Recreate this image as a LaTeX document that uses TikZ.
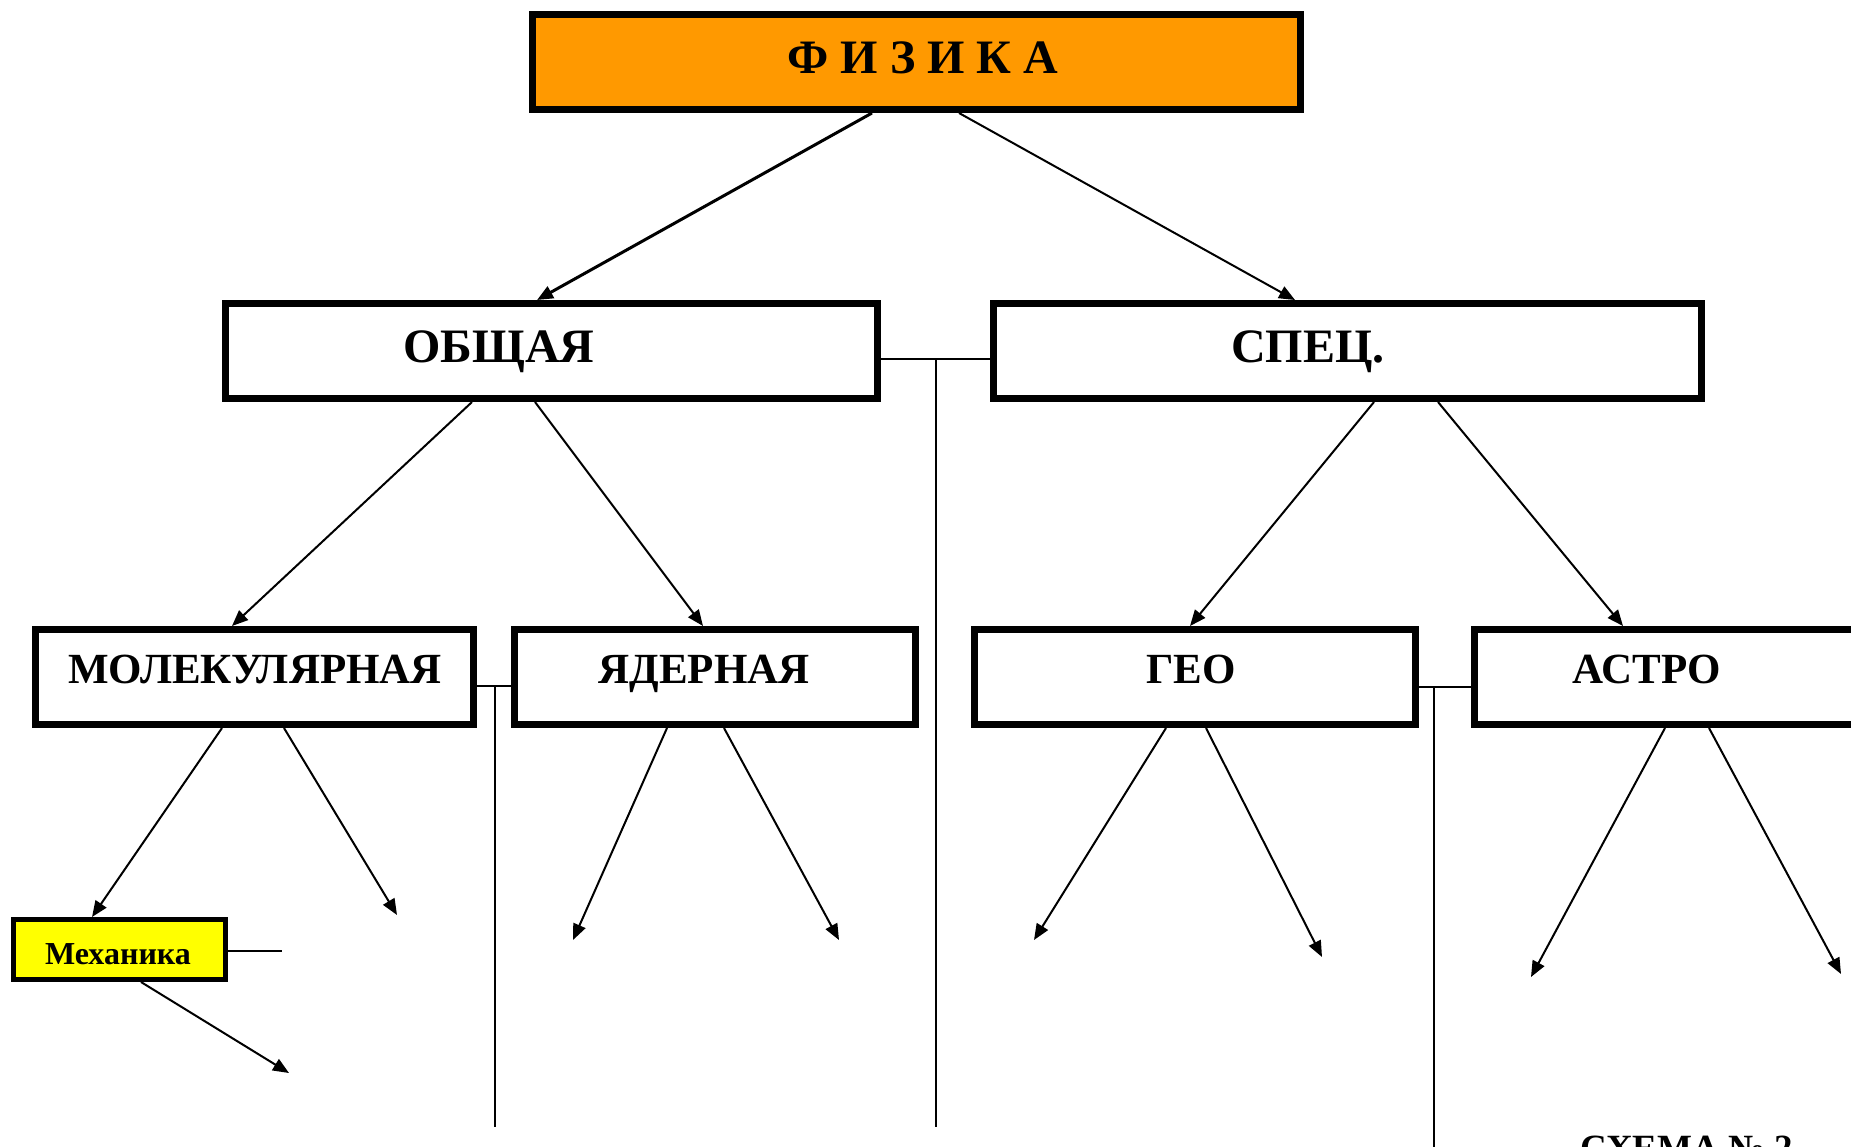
\documentclass[tikz,border=0pt]{standalone}
\usepackage{fontspec}
\setmainfont{Liberation Serif}
\usetikzlibrary{arrows.meta}
\definecolor{physorange}{HTML}{FF9900}
\definecolor{mechyellow}{HTML}{FFFF00}
\tikzset{
  box/.style={draw, line width=7pt, rectangle, inner sep=0pt, fill=white},
  lbl/.style={inner sep=0pt, anchor=base, font=\bfseries\fontsize{48pt}{56pt}\selectfont},
  lblsm/.style={lbl, font=\bfseries\fontsize{43pt}{50pt}\selectfont},
  arr/.style={-{Triangle[length=16pt,width=13pt]}, line width=2pt},
  conn/.style={line width=2pt}
}
\begin{document}
\begin{tikzpicture}[x=1pt,y=-1pt]
\useasboundingbox (0,0) rectangle (1851,1146);
\clip (0,0) rectangle (1851,1146);
\fill[white] (0,0) rectangle (1851,1146);

% boxes
\node[box, fill=physorange, minimum width=768pt, minimum height=95pt] (fiz) at (916.5,62) {};
\node[box, minimum width=652pt, minimum height=95pt] (ob) at (551.5,351) {};
\node[box, minimum width=708pt, minimum height=95pt] (sp) at (1347.5,351) {};
\node[box, minimum width=438pt, minimum height=95pt] (mol) at (254.5,677) {};
\node[box, minimum width=401pt, minimum height=95pt] (yad) at (715,677) {};
\node[box, minimum width=441pt, minimum height=95pt] (geo) at (1195,677) {};
\node[box, minimum width=422pt, minimum height=95pt] (ast) at (1685.5,677) {};
\node[box, line width=5pt, fill=mechyellow, minimum width=212pt, minimum height=60pt] (mech) at (119.5,949.5) {};

% labels
\node[lbl] (fizt) at (923,73) {Ф И З И К А};
\node[lbl] (obt) at (499,362) {ОБЩАЯ};
\node[lbl] (spt) at (1308,362) {СПЕЦ.};
\node[lblsm] (molt) at (255,683) {МОЛЕКУЛЯРНАЯ};
\node[lblsm] (yadt) at (704,683) {ЯДЕРНАЯ};
\node[lblsm] (geot) at (1191,683) {ГЕО};
\node[lblsm] (astt) at (1647,683) {АСТРО};
\node[lbl, font=\bfseries\fontsize{32pt}{38pt}\selectfont] (mecht) at (118,964) {Механика};
\node[inner sep=0pt, anchor=base west, font=\bfseries\fontsize{37pt}{44pt}\selectfont] (schema) at (1580,1160) {СХЕМА № 2};

% free ends
\coordinate (j1) at (936,359);
\coordinate (j1b) at (936,1127);
\coordinate (j2) at (495,686);
\coordinate (j2b) at (495,1127);
\coordinate (j3) at (1434,687);
\coordinate (j3b) at (1434,1160);
\coordinate (m1) at (282,951);
\coordinate (e8) at (397,915);
\coordinate (e9) at (573,940);
\coordinate (e10) at (839,940);
\coordinate (e11) at (1034,940);
\coordinate (e12) at (1322,957);
\coordinate (e13) at (1531,977);
\coordinate (e14) at (1841,974);
\coordinate (e15) at (289,1073);

% horizontal links and verticals
\draw[conn] (ob.east |- j1) -- (sp.west |- j1);
\draw[conn] (j1) -- (j1b);
\draw[conn] (mol.east |- j2) -- (yad.west |- j2);
\draw[conn] (j2) -- (j2b);
\draw[conn] (geo.east |- j3) -- (ast.west |- j3);
\draw[conn] (j3) -- (j3b);
\draw[conn] (mech.east |- m1) -- (m1);

% arrows
\draw[arr, line width=3pt] (fiz.south -| 872,0) -- (ob.north -| 537,0);
\draw[arr] (fiz.south -| 959,0) -- (sp.north -| 1295,0);
\draw[arr] (ob.south -| 472,0) -- (mol.north -| 232,0);
\draw[arr] (ob.south -| 535,0) -- (yad.north -| 703,0);
\draw[arr] (sp.south -| 1374,0) -- (geo.north -| 1190,0);
\draw[arr] (sp.south -| 1438,0) -- (ast.north -| 1623,0);
\draw[arr] (mol.south -| 222,0) -- (mech.north -| 92,0);
\draw[arr] (mol.south -| 284,0) -- (e8);
\draw[arr] (yad.south -| 667,0) -- (e9);
\draw[arr] (yad.south -| 724,0) -- (e10);
\draw[arr] (geo.south -| 1166,0) -- (e11);
\draw[arr] (geo.south -| 1206,0) -- (e12);
\draw[arr] (ast.south -| 1665,0) -- (e13);
\draw[arr] (ast.south -| 1709,0) -- (e14);
\draw[arr] (mech.south -| 141,0) -- (e15);
\end{tikzpicture}
\end{document}
